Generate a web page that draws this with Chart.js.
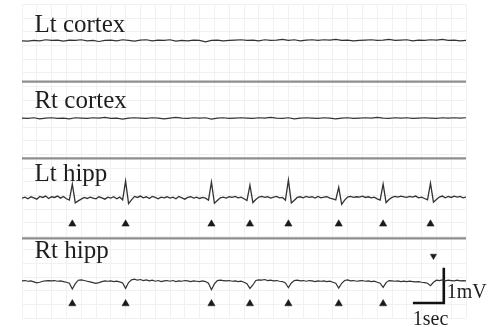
<!DOCTYPE html>
<html>
<head>
<meta charset="utf-8">
<script src="https://cdn.jsdelivr.net/npm/chart.js@4"></script>
<style>
  html, body { margin: 0; padding: 0; background: #fff; }
  canvas { display: block; }
</style>
</head>
<body>
<canvas id="eeg" width="491" height="327"></canvas>
<script>
// channels, stacked top to bottom (baseline level in mV on a shared axis)
const channelNames = ["Lt cortex", "Rt cortex", "Lt hipp", "Rt hipp"];
const channelOffsets = [-1.06, -3.34, -5.68, -8.13];
const separatorLevels = [-2.26, -4.51, -6.86];

// sampling step in seconds
const cortexStep = 0.2;
const hippStep = 0.1;

// deviation from baseline, mV
const ltCortex = [
  0.00, -0.01, 0.01, 0.00, 0.03, 0.01, 0.02, -0.01, 0.02, 0.01,
  0.03, 0.00, 0.01, -0.02, 0.01, 0.02, 0.00, 0.03, 0.01, -0.01,
  0.02, 0.03, 0.00, 0.02, 0.01, 0.03, -0.01, 0.01, 0.00, 0.02,
  0.01, -0.03, 0.01, 0.02, 0.00, 0.01, 0.02, 0.03, 0.01, 0.02,
  0.00, 0.03, 0.01, 0.02, 0.04, 0.01, 0.03, 0.00, 0.02, 0.03,
  0.01, 0.03, 0.02, 0.04, 0.01, 0.02, 0.00, 0.01, 0.02, 0.03,
  0.01, 0.02, 0.04, 0.01, 0.02, 0.03, 0.00, 0.02, 0.01, 0.03,
  0.02, 0.04, 0.01, 0.02, 0.00, 0.01
];
const rtCortex = [
  0.01, 0.00, 0.02, -0.01, 0.01, 0.02, 0.00, 0.01, -0.01, 0.02,
  0.01, 0.00, 0.02, 0.01, 0.03, 0.00, 0.01, -0.02, 0.01, 0.02,
  0.01, 0.00, 0.02, 0.01, -0.01, 0.01, 0.03, 0.01, 0.00, 0.02,
  0.01, 0.02, -0.02, 0.01, 0.02, 0.00, 0.01, 0.02, 0.01, 0.00,
  0.02, 0.01, 0.03, 0.01, 0.00, 0.02, -0.01, 0.01, 0.02, 0.01,
  0.00, 0.02, 0.01, -0.01, 0.01, 0.02, 0.00, 0.01, 0.02, 0.01,
  0.03, 0.01, 0.00, 0.02, 0.01, 0.02, 0.00, 0.01, 0.02, 0.01,
  0.00, 0.02, 0.01, 0.02, 0.01, 0.02
];
const ltHipp = [
  0.00, 0.03, -0.02, 0.04, 0.01, -0.03, 0.05, 0.02, 0.06, -0.01,
  0.04, 0.02, 0.06, 0.00, 0.05, -0.02, -0.06, 0.41, -0.14, -0.08,
  -0.03, 0.02, -0.01, 0.03, 0.00, -0.02, 0.04, 0.01, -0.03, 0.03,
  0.00, 0.04, -0.02, 0.03, -0.05, 0.50, -0.16, -0.05, 0.05, 0.02,
  0.06, 0.01, 0.04, -0.01, 0.05, 0.02, -0.02, 0.03, 0.01, 0.04,
  0.00, 0.03, -0.02, 0.05, 0.01, -0.03, 0.02, 0.04, 0.00, 0.03,
  -0.01, 0.02, 0.00, -0.06, 0.47, -0.15, -0.07, 0.01, 0.03, 0.00,
  0.04, 0.02, 0.05, 0.01, 0.03, -0.02, -0.07, 0.38, -0.13, -0.04,
  0.03, 0.05, 0.02, 0.04, 0.00, 0.03, 0.05, 0.01, 0.02, -0.06,
  0.53, -0.14, -0.06, 0.02, 0.04, 0.01, 0.05, 0.02, 0.04, 0.00,
  0.05, 0.01, 0.03, 0.04, 0.00, -0.02, -0.05, 0.32, -0.18, -0.06,
  0.03, 0.05, 0.02, 0.04, 0.03, 0.06, 0.02, 0.04, 0.01, 0.03,
  -0.02, -0.06, 0.41, -0.13, -0.04, 0.02, 0.05, 0.03, 0.06, 0.04,
  0.02, 0.05, 0.03, 0.06, 0.01, 0.03, -0.01, -0.05, 0.44, -0.12,
  -0.04, 0.03, 0.06, 0.01, 0.05, 0.02, 0.06, 0.03, 0.05, 0.01, 0.03
];
const rtHipp = [
  0.02, 0.03, 0.01, 0.02, -0.01, -0.04, -0.02, 0.01, 0.02, 0.03,
  0.02, 0.03, 0.01, 0.02, 0.00, -0.02, -0.05, -0.22, -0.06, 0.04,
  0.05, 0.03, 0.01, -0.01, -0.03, -0.05, -0.03, 0.00, 0.02, 0.01,
  0.02, 0.00, 0.01, -0.01, -0.04, -0.20, -0.03, 0.05, 0.07, 0.04,
  0.06, 0.03, 0.05, 0.02, 0.04, 0.01, 0.03, 0.00, 0.02, 0.03,
  0.01, 0.03, 0.00, 0.02, 0.01, 0.03, 0.02, 0.00, 0.02, 0.01,
  0.00, 0.02, 0.00, -0.05, -0.24, -0.07, 0.03, 0.04, 0.03, 0.02,
  0.03, 0.01, 0.02, 0.00, 0.01, -0.02, -0.06, -0.20, -0.10, 0.03,
  0.05, 0.04, 0.06, 0.03, 0.04, 0.02, 0.03, 0.01, 0.00, -0.04,
  -0.18, -0.04, 0.03, 0.04, 0.02, 0.03, 0.01, 0.03, 0.02, 0.00,
  0.02, 0.01, 0.02, 0.00, 0.01, -0.02, -0.05, -0.19, -0.05, 0.03,
  0.05, 0.02, 0.03, 0.01, 0.02, 0.03, 0.01, 0.02, 0.00, 0.01,
  -0.02, -0.05, -0.17, -0.03, 0.03, 0.02, 0.01, 0.02, 0.00, 0.01,
  0.00, 0.01, 0.00, -0.01, 0.00, -0.02, -0.03, -0.05, -0.12, -0.02,
  0.04, 0.03, 0.05, 0.02, 0.04, 0.03, 0.02, 0.04, 0.02, 0.03, 0.02
];

// spike markers (seconds)
const ltSpikeTimes = [1.7, 3.5, 6.4, 7.7, 9.0, 10.7, 12.2, 13.8];
const rtSpikeTimes = [1.7, 3.5, 6.4, 7.7, 9.0, 10.7, 12.2];
const rtMarkTimes = [13.9];
const ltArrowLevel = -6.44;
const rtArrowLevel = -8.78;
const rtMarkLevel = -7.38;

// calibration bar: 1 sec x 1 mV
const scaleBarT = [13.25, 14.25, 14.25];
const scaleBarV = [-8.76, -8.76, -7.76];

const duration = 15;

function trace(values, step, offset) {
    return values.map((v, i) => ({ x: +(i * step).toFixed(2), y: offset + v }));
}

const traceStyle = {
    borderColor: "#333",
    borderWidth: 1.2,
    pointRadius: 0,
    tension: 0,
    fill: false
};

const datasets = [];

// separator lines between channels
separatorLevels.forEach(level => {
    datasets.push({
        data: [{ x: 0, y: level }, { x: duration, y: level }],
        borderColor: "#8e8e8e",
        borderWidth: 2.2,
        pointRadius: 0
    });
});

datasets.push({ ...traceStyle, data: trace(ltCortex, cortexStep, channelOffsets[0]) });
datasets.push({ ...traceStyle, data: trace(rtCortex, cortexStep, channelOffsets[1]) });
datasets.push({ ...traceStyle, borderWidth: 1.3, data: trace(ltHipp, hippStep, channelOffsets[2]) });
datasets.push({ ...traceStyle, data: trace(rtHipp, hippStep, channelOffsets[3]) });

const arrowStyle = {
    showLine: false,
    pointStyle: "triangle",
    pointRadius: 4.2,
    pointBackgroundColor: "#1a1a1a",
    pointBorderColor: "#1a1a1a",
    pointBorderWidth: 0.5
};
datasets.push({ ...arrowStyle, data: ltSpikeTimes.map(t => ({ x: t, y: ltArrowLevel })) });
datasets.push({ ...arrowStyle, data: rtSpikeTimes.map(t => ({ x: t, y: rtArrowLevel })) });
datasets.push({ ...arrowStyle, pointRotation: 180, pointRadius: 3.6,
    data: rtMarkTimes.map(t => ({ x: t, y: rtMarkLevel })) });

datasets.push({
    data: scaleBarT.map((t, i) => ({ x: t, y: scaleBarV[i] })),
    borderColor: "#111",
    borderWidth: 2.6,
    pointRadius: 0,
    borderJoinStyle: "miter",
    borderCapStyle: "square"
});

// channel names and calibration text
const labelPlugin = {
    id: "eegLabels",
    afterDatasetsDraw(chart) {
        const { ctx, scales: { x, y } } = chart;
        const labelLevels = [-0.79, -3.02, -5.19, -7.44];
        ctx.save();
        ctx.fillStyle = "#1e1e1e";
        ctx.textBaseline = "alphabetic";
        ctx.font = '25px "Liberation Serif", "Times New Roman", serif';
        channelNames.forEach((name, i) => {
            ctx.fillText(name, x.getPixelForValue(0.42), y.getPixelForValue(labelLevels[i]));
        });
        ctx.font = '20px "Liberation Serif", "Times New Roman", serif';
        ctx.fillText("1mV", x.getPixelForValue(14.35), y.getPixelForValue(-8.6));
        ctx.fillText("1sec", x.getPixelForValue(13.2), y.getPixelForValue(-9.42));
        ctx.restore();
    }
};

new Chart(document.getElementById("eeg"), {
    type: "line",
    data: { datasets },
    options: {
        responsive: false,
        animation: false,
        layout: { padding: { left: 22, right: 25, top: 4, bottom: 9 } },
        plugins: {
            legend: { display: false },
            tooltip: { enabled: false }
        },
        scales: {
            x: {
                type: "linear",
                min: 0,
                max: duration,
                ticks: { display: false, stepSize: 0.5 },
                grid: { color: "#f1f1f1", lineWidth: 1, drawTicks: false },
                border: { display: false }
            },
            y: {
                type: "linear",
                min: -9.2,
                max: 0,
                ticks: { display: false, stepSize: 0.4 },
                grid: { color: "#f1f1f1", lineWidth: 1, drawTicks: false },
                border: { display: false }
            }
        }
    },
    plugins: [labelPlugin]
});
</script>
</body>
</html>
